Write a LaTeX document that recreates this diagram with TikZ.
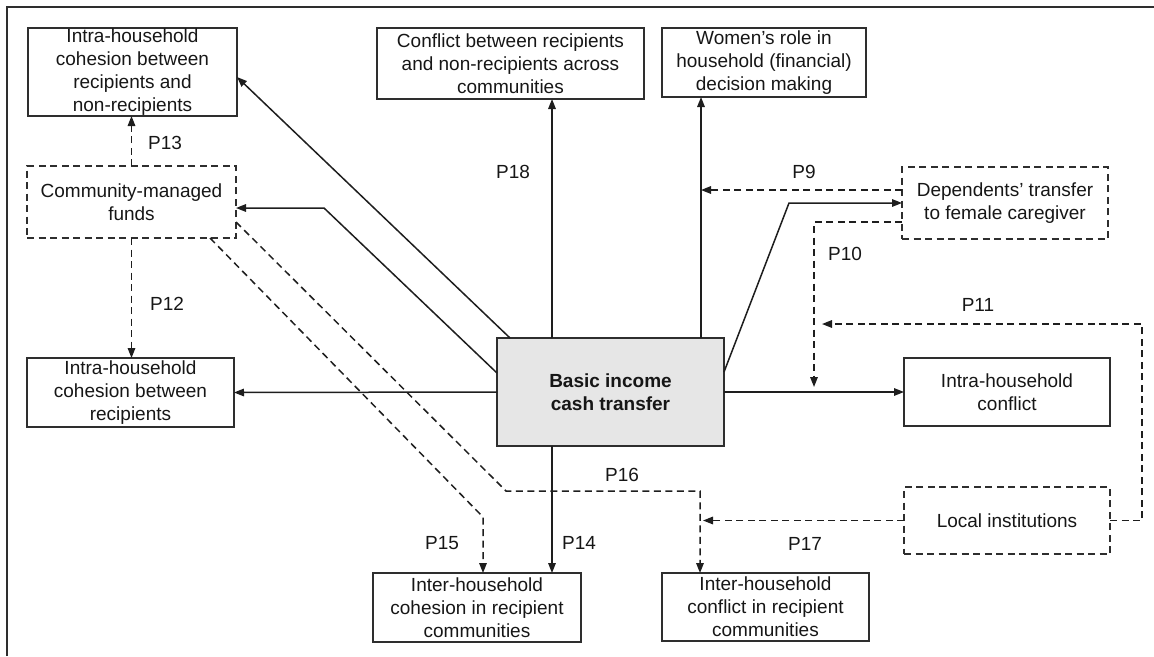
\documentclass[tikz,border=0pt]{standalone}
\usepackage{fontspec}
\setmainfont{Liberation Sans}
\usetikzlibrary{arrows.meta,calc}
\definecolor{linecol}{HTML}{1E1E1E}
\definecolor{boxcol}{HTML}{2E2E2E}
\definecolor{txtcol}{HTML}{161616}
\definecolor{maingray}{HTML}{E6E6E6}
\newcommand\diafont{\fontsize{19}{23}\selectfont}
\tikzset{
  box/.style={draw=boxcol, line width=1.8pt, inner sep=0pt, outer sep=0pt, align=center, font=\diafont, text=txtcol},
  dbox/.style={box, line width=1.6pt, dash pattern=on 7pt off 4.5pt},
  mainbox/.style={box, fill=maingray, font=\diafont\bfseries},
  arr/.style={line width=1.5pt, draw=linecol, -{Triangle[length=10pt,width=7.5pt]}},
  darr/.style={arr, dash pattern=on 7pt off 4.5pt},
  lab/.style={font=\diafont, text=txtcol, inner sep=0pt},
}
\begin{document}
\begin{tikzpicture}[x=1pt,y=-1pt]
\useasboundingbox (0,0) rectangle (1154,656);
\draw[line width=1.6pt, draw=boxcol] (7,656) -- (7,7) -- (1154,7);

% nodes
\node[box, minimum width=209pt, minimum height=88pt] (A) at (132.5,72) {Intra-household\\cohesion between\\recipients and\\non-recipients};
\node[box, minimum width=267pt, minimum height=71pt] (C) at (510.5,63.5) {Conflict between recipients\\and non-recipients across\\communities};
\node[box, minimum width=204pt, minimum height=69pt] (W) at (764,62.5) {Women’s role in\\household (financial)\\decision making};
\node[dbox, minimum width=209pt, minimum height=72pt] (CF) at (131.5,202) {Community-managed\\funds};
\node[dbox, minimum width=206pt, minimum height=72pt] (D) at (1005,203) {Dependents’ transfer\\to female caregiver};
\node[box, minimum width=207pt, minimum height=69pt] (B) at (130.5,392.5) {Intra-household\\cohesion between\\recipients};
\node[mainbox, minimum width=227pt, minimum height=108pt] (M) at (610.5,392) {Basic income\\cash transfer};
\node[box, minimum width=206pt, minimum height=68pt] (IC) at (1007,392) {Intra-household\\conflict};
\node[dbox, minimum width=206pt, minimum height=67pt] (L) at (1007,520.5) {Local institutions};
\node[box, minimum width=208pt, minimum height=69pt] (ICo) at (477,607.5) {Inter-household\\cohesion in recipient\\communities};
\node[box, minimum width=207pt, minimum height=68pt] (ICf) at (765.5,607) {Inter-household\\conflict in recipient\\communities};

% helper coordinates
\coordinate (m1) at ($(M.north west)+(55,0)$);
\coordinate (m2) at ($(M.north west)+(204,0)$);
\coordinate (m3) at ($(M.east)+(0,-20)$);
\coordinate (k1) at ($(D.west)+(-113,0)$);
\coordinate (p9) at ($(D.west)+(0,-13)$);
\coordinate (p10a) at ($(D.west)+(0,19)$);
\coordinate (p10b) at ($(D.west)+(-88,19)$);
\coordinate (p11a) at ($(L.east)+(32,0)$);
\coordinate (p11b) at ($(IC.north east)+(32,-34)$);
\coordinate (q1) at ($(CF.east)+(0,20)$);
\coordinate (q3) at ($(ICf.north west)+(38,0)$);
\coordinate (q2) at ($(q3)+(0,-82)$);
\coordinate (r1) at ($(CF.south east)+(-26,0)$);
\coordinate (r3) at ($(ICo.north west)+(110,0)$);

% solid connectors from the cash transfer
\draw[arr] ($(M.north west)+(13,0)$) -- ($(A.east)+(0,5)$);
\draw[arr] ($(M.west)+(0,-19)$) -- ($(CF.east)+(88,6)$) -- ($(CF.east)+(0,6)$);
\draw[arr] (m1) -- (m1 |- C.south);
\draw[arr] (m2) -- (m2 |- W.south);
\draw[arr] (m3) -- (k1) -- (D.west);
\draw[arr] (M.east) -- (IC.west);
\draw[arr] (M.west) -- (B.east);
\draw[arr] (m1 |- M.south) -- (m1 |- ICo.north);

% dashed moderators
\draw[darr] (p9) -- (p9 -| m2);
\draw[darr, shorten >=5pt] (p10a) -- (p10b) -- (p10b |- M.east);
\draw[darr] (L.east) -- (p11a) -- (p11b) -- ($(p10b |- p11b)+(8,0)$);
\draw[darr] (CF.north) -- (CF.north |- A.south);
\draw[darr] (CF.south) -- (CF.south |- B.north);
\draw[darr] (r1) -- ($(r3)+(0,-56)$) -- (r3);
\draw[darr] (q1) -- ($(q2)+(-194,0)$) -- (q2) -- (q3);
\draw[darr, shorten >=3pt] (L.west) -- (L.west -| q3);

% labels
\node[lab] (l13) at (165,143) {P13};
\node[lab] (l18) at (513,172) {P18};
\node[lab] (l9) at (804,172) {P9};
\node[lab] (l10) at (845,254) {P10};
\node[lab] (l11) at (978,305) {P11};
\node[lab] (l12) at (167,304) {P12};
\node[lab] (l16) at (622,475) {P16};
\node[lab] (l15) at (442,543) {P15};
\node[lab] (l14) at (579,543) {P14};
\node[lab] (l17) at (805,544) {P17};
\end{tikzpicture}
\end{document}
